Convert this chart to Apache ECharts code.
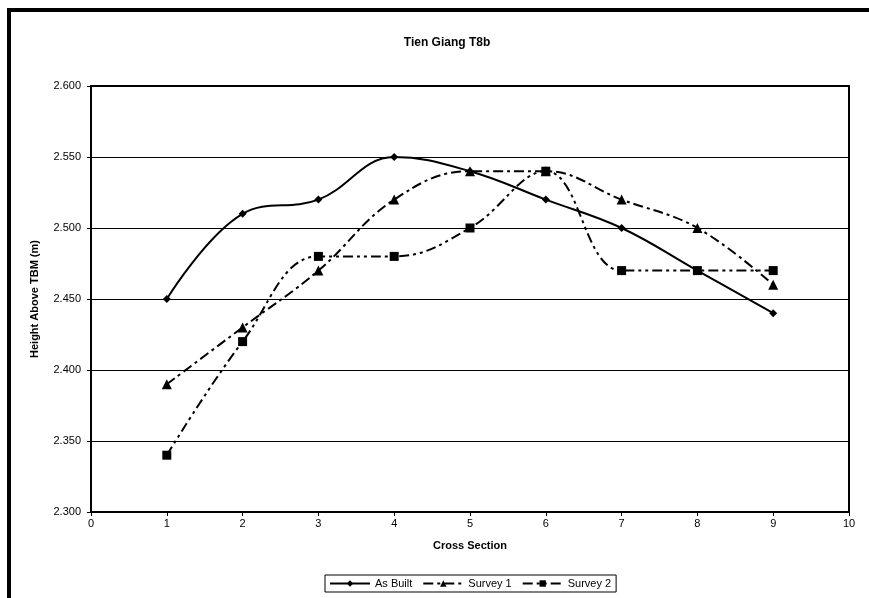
<!DOCTYPE html>
<html>
<head>
<meta charset="utf-8">
<script src="https://cdn.jsdelivr.net/npm/echarts@6/dist/echarts.min.js"></script>
<style>
  html, body { margin: 0; padding: 0; background: #fff; }
  #chart { width: 869px; height: 598px; }
</style>
</head>
<body>
<div id="chart"></div>
<script>
// cross section numbers and measured heights
const sections = [1, 2, 3, 4, 5, 6, 7, 8, 9];
const asBuilt = [2.45, 2.51, 2.52, 2.55, 2.54, 2.52, 2.50, 2.47, 2.44];
const survey1 = [2.39, 2.43, 2.47, 2.52, 2.54, 2.54, 2.52, 2.50, 2.46];
const survey2 = [2.34, 2.42, 2.48, 2.48, 2.50, 2.54, 2.47, 2.47, 2.47];

const font = 'Liberation Sans, Arial, sans-serif';

function pairs(vals) {
  return sections.map((s, i) => [s, vals[i]]);
}

const myChart = echarts.init(document.getElementById('chart'));

const option = {
  animation: false,
  backgroundColor: '#fff',
  title: {
    text: 'Tien Giang T8b',
    left: 442,
    top: 32,
    textAlign: 'center',
    textStyle: { fontFamily: font, fontSize: 12, fontWeight: 'bold', color: '#000' }
  },
  graphic: [{
    type: 'rect',
    shape: { x: 9, y: 10, width: 900, height: 700 },
    style: { fill: 'none', stroke: '#000', lineWidth: 4 },
    silent: true
  }],
  legend: {
    left: 325,
    top: 575,
    orient: 'horizontal',
    itemWidth: 40,
    itemHeight: 8,
    itemGap: 10,
    padding: [3, 5, 3, 4],
    borderColor: '#000',
    borderWidth: 1,
    borderRadius: 0,
    textStyle: { fontFamily: font, fontSize: 11, color: '#000', padding: [0, 0, 0, 0] },
    data: ['As Built', 'Survey 1', 'Survey 2']
  },
  grid: {
    left: 91, right: 20, top: 86, bottom: 86,
    show: true, borderColor: '#000', borderWidth: 2
  },
  xAxis: {
    type: 'value',
    min: 0, max: 10, interval: 1,
    name: 'Cross Section',
    nameLocation: 'middle',
    nameGap: 28,
    nameTextStyle: { fontFamily: font, fontSize: 11, fontWeight: 'bold', color: '#000' },
    axisLine: { show: true, onZero: false, lineStyle: { color: '#000', width: 2 } },
    axisTick: { show: true, inside: false, length: 4, lineStyle: { color: '#000' } },
    axisLabel: { fontFamily: font, fontSize: 11, color: '#000', margin: 6 },
    splitLine: { show: false }
  },
  yAxis: {
    type: 'value',
    min: 2.3, max: 2.6, interval: 0.05,
    name: 'Height Above TBM (m)',
    nameLocation: 'middle',
    nameGap: 51,
    nameTextStyle: { fontFamily: font, fontSize: 11, fontWeight: 'bold', color: '#000' },
    axisLine: { show: true, lineStyle: { color: '#000', width: 2 } },
    axisTick: { show: true, inside: false, length: 4, lineStyle: { color: '#000' } },
    axisLabel: {
      fontFamily: font, fontSize: 11, color: '#000', margin: 10,
      formatter: v => v.toFixed(3)
    },
    splitLine: { show: true, lineStyle: { color: '#000', width: 1 } }
  },
  series: [
    {
      name: 'As Built',
      type: 'line',
      smooth: 0.4,
      data: pairs(asBuilt),
      symbol: 'diamond',
      symbolSize: 8,
      itemStyle: { color: '#000' },
      lineStyle: { color: '#000', width: 2, type: 'solid' }
    },
    {
      name: 'Survey 1',
      type: 'line',
      smooth: 0.4,
      data: pairs(survey1),
      symbol: 'triangle',
      symbolSize: 10,
      itemStyle: { color: '#000' },
      lineStyle: { color: '#000', width: 2, type: [10, 4, 3, 4] }
    },
    {
      name: 'Survey 2',
      type: 'line',
      smooth: 0.4,
      data: pairs(survey2),
      symbol: 'rect',
      symbolSize: 9,
      itemStyle: { color: '#000' },
      lineStyle: { color: '#000', width: 2, type: [10, 4, 3, 4, 3, 4] }
    }
  ]
};

myChart.setOption(option);
</script>
</body>
</html>
